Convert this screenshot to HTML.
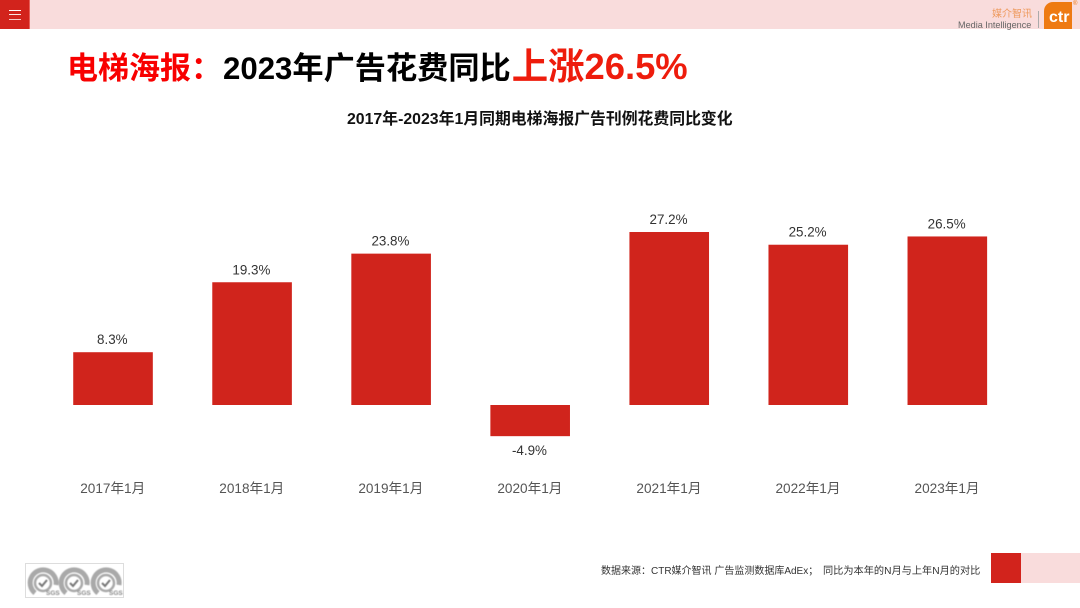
<!DOCTYPE html>
<html lang="zh">
<head>
<meta charset="utf-8">
<style>
html,body{margin:0;padding:0;background:#fff}
#page{position:relative;width:1080px;height:608px;overflow:hidden;background:#fff;font-family:"Liberation Sans","Noto Sans CJK SC",sans-serif}
.abs{position:absolute;white-space:nowrap}
</style>
</head>
<body>
<div id="page">
  <div class="abs" style="left:0;top:0;width:1080px;height:29px;background:#f9dcdc"></div>
  <div class="abs" style="left:0;top:0;width:29px;height:29px;background:#d2231c;border-right:1px solid #e8605a;box-sizing:content-box">
    <div style="position:absolute;left:9px;top:10px;width:12px;height:1px;background:#fff"></div>
    <div style="position:absolute;left:9px;top:14px;width:12px;height:1px;background:#fbe4e2"></div>
    <div style="position:absolute;left:9px;top:19px;width:12px;height:1px;background:#f6c9c6"></div>
  </div>
  <div class="abs" style="left:992px;top:8px;font-size:10px;line-height:13px;color:#ee9a5e">媒介智讯</div>
  <div class="abs" style="left:958px;top:19px;font-size:9.1px;line-height:12px;color:#666">Media Intelligence</div>
  <div class="abs" style="left:1038px;top:11px;width:1px;height:17px;background:#aaa"></div>
  <div class="abs" style="left:1044px;top:2px;width:28px;height:27px;background:#ee7a12;border-radius:9px 0 0 0;overflow:hidden">
    <span style="position:absolute;left:5px;top:7px;color:#fff;font-weight:bold;font-size:16px;line-height:18px">ctr</span>
  </div>
  <div class="abs" style="left:1073px;top:1px;font-size:6px;line-height:7px;color:#ee7a12">®</div>

  <div class="abs" style="left:67px;top:46px;font-size:31px;line-height:42px;font-weight:bold;color:#000"><span style="color:#f80000">电梯海报：</span><span style="margin-left:1px;font-size:31.2px">2023年广告花费同比</span><span style="margin-left:1px;color:#ee1c0c;font-size:36.4px">上涨26.5%</span></div>
  <div class="abs" style="left:347px;top:109px;font-size:15.85px;line-height:21px;font-weight:bold;color:#111">2017年-2023年1月同期电梯海报广告刊例花费同比变化</div>

  <svg class="abs" id="chart" style="left:0;top:0" width="1080" height="608" viewBox="0 0 1080 608"></svg>

  <div class="abs" style="left:25px;top:563px;width:97px;height:33px;border:1px solid #ddd;background:#fff">
    <svg width="97" height="33" viewBox="0 0 97 33" style="filter:blur(0.5px)">
      <g fill="none" stroke="#a9a9a9">
        <path d="M9 29A13 13 0 1 1 30 21" stroke-width="5"/><circle cx="17" cy="19" r="8" stroke-width="2.500"/><path d="M13 19l3 3 5-6" stroke="#777" stroke-width="2"/>
        <path d="M40 29A13 13 0 1 1 61 21" stroke-width="5"/><circle cx="48" cy="19" r="8" stroke-width="2.500"/><path d="M44 19l3 3 5-6" stroke="#777" stroke-width="2"/>
        <path d="M72 29A13 13 0 1 1 93 21" stroke-width="5"/><circle cx="80" cy="19" r="8" stroke-width="2.500"/><path d="M76 19l3 3 5-6" stroke="#777" stroke-width="2"/>
      </g>
      <g font-size="6.500" font-weight="bold" fill="#888" font-family="Liberation Sans, sans-serif">
        <text x="20" y="31">SGS</text><text x="51" y="31">SGS</text><text x="83" y="31">SGS</text>
      </g>
    </svg>
  </div>

  <div class="abs" style="left:601px;top:565px;font-size:10px;line-height:14px;color:#333">数据来源：CTR媒介智讯 广告监测数据库AdEx；</div>
  <div class="abs" style="left:823px;top:565px;font-size:10.2px;line-height:14px;color:#333">同比为本年的N月与上年N月的对比</div>
  <div class="abs" style="left:991px;top:553px;width:30px;height:30px;background:#d2231c"></div>
  <div class="abs" style="left:1021px;top:553px;width:59px;height:30px;background:#f9dcdc"></div>
</div>
<script>
const categories = ['2017年1月','2018年1月','2019年1月','2020年1月','2021年1月','2022年1月','2023年1月'];
const growthValues = [8.3, 19.3, 23.8, -4.9, 27.2, 25.2, 26.5];

const svgNS = 'http://www.w3.org/2000/svg';
const chart = document.getElementById('chart');
const plotLeft = 43.5;
const bandWidth = 139.05;
const barWidth = 79.6;
const zeroY = 405;
const pxPerUnit = 6.36;
function xCenter(i) { return plotLeft + bandWidth * (i + 0.5); }
function yScale(v) { return zeroY - v * pxPerUnit; }

categories.forEach(function (cat, i) {
  const v = growthValues[i];
  const top = Math.min(yScale(v), zeroY);
  const h = Math.abs(yScale(v) - zeroY);

  const bar = document.createElementNS(svgNS, 'rect');
  
  
  bar.setAttribute('x', xCenter(i) - barWidth / 2);
  bar.setAttribute('y', top);
  bar.setAttribute('width', barWidth);
  bar.setAttribute('height', h);
  bar.setAttribute('fill', '#d0241c');
  chart.appendChild(bar);

  const label = document.createElementNS(svgNS, 'text');
  
  
  label.setAttribute('x', xCenter(i) - 0.7);
  label.setAttribute('y', v >= 0 ? top - 8 : top + h + 19);
  label.setAttribute('text-anchor', 'middle');
  label.setAttribute('font-size', '13.4');
  label.setAttribute('fill', '#333');
  label.textContent = v.toFixed(1) + '%';
  chart.appendChild(label);

  const tick = document.createElementNS(svgNS, 'text');
  
  
  tick.setAttribute('x', xCenter(i) - 0.3);
  tick.setAttribute('y', 493);
  tick.setAttribute('text-anchor', 'middle');
  tick.setAttribute('font-size', '13.6');
  tick.setAttribute('fill', '#555');
  tick.textContent = cat;
  chart.appendChild(tick);
});
</script>
</body>
</html>
